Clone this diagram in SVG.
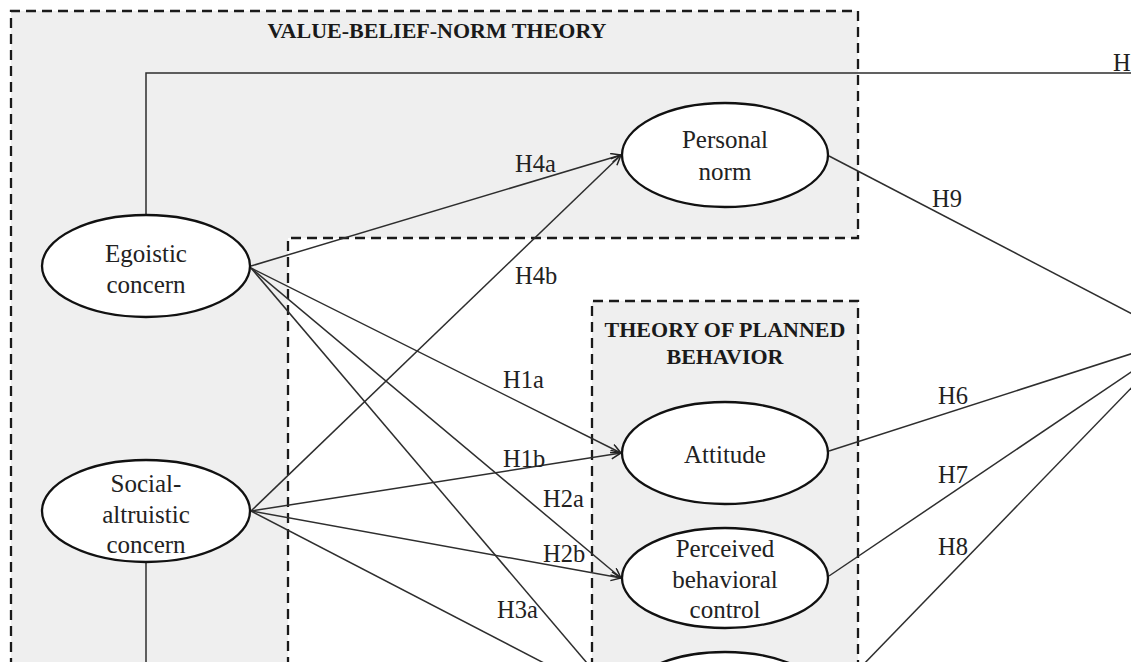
<svg xmlns="http://www.w3.org/2000/svg" width="1131" height="662" viewBox="0 0 1131 662">
<defs>
<style>
.box{fill:#efefef;stroke:#1a1a1a;stroke-width:2.3;stroke-dasharray:10 6}
.conn{fill:none;stroke:#2e2e2e;stroke-width:1.5}
.node{fill:#fff;stroke:#111;stroke-width:2.3}
.t{font-family:"Liberation Serif","Times New Roman",serif;font-size:25px;fill:#222;text-anchor:middle}
.lb{font-family:"Liberation Serif","Times New Roman",serif;font-size:24.5px;fill:#222}
.title{font-family:"Liberation Serif","Times New Roman",serif;font-size:22px;font-weight:bold;fill:#1a1a1a;text-anchor:middle}
</style>
<marker id="arr" markerUnits="userSpaceOnUse" markerWidth="14" markerHeight="14" refX="11" refY="5" orient="auto">
<path d="M1,0.5 L11,5 L1,9.5" fill="none" stroke="#222" stroke-width="1.5"/>
</marker>
</defs>
<rect width="1131" height="662" fill="#fff"/>
<g id="vbn-box">
<path class="box" d="M11,700 L11,11 L858,11 L858,238 L288,238 L288,700"/>
<text class="title" x="437" y="38">VALUE-BELIEF-NORM THEORY</text>
</g>
<g id="tpb-box">
<path class="box" d="M592,700 L592,301 L858,301 L858,700"/>
<text class="title" x="725" y="337">THEORY OF PLANNED</text>
<text class="title" x="725" y="364">BEHAVIOR</text>
</g>
<g id="connectors">
<path class="conn" d="M146,215 L146,73 L1140,73"/>
<path class="conn" d="M146,563 L146,680"/>
<line class="conn" x1="251" y1="266" x2="621" y2="155" marker-end="url(#arr)"/>
<line class="conn" x1="251" y1="268" x2="621" y2="453" marker-end="url(#arr)"/>
<line class="conn" x1="251" y1="268" x2="621" y2="578" marker-end="url(#arr)"/>
<line class="conn" x1="251" y1="268" x2="621" y2="703" marker-end="url(#arr)"/>
<line class="conn" x1="251" y1="511" x2="621" y2="155" marker-end="url(#arr)"/>
<line class="conn" x1="251" y1="511" x2="621" y2="453" marker-end="url(#arr)"/>
<line class="conn" x1="251" y1="511" x2="621" y2="578" marker-end="url(#arr)"/>
<line class="conn" x1="251" y1="511" x2="621" y2="703" marker-end="url(#arr)"/>
<line class="conn" x1="829" y1="156" x2="1140" y2="318"/>
<line class="conn" x1="829" y1="451" x2="1140" y2="351"/>
<line class="conn" x1="829" y1="576" x2="1140" y2="366"/>
<line class="conn" x1="829" y1="700" x2="1140" y2="379"/>
<text class="lb" x="1113" y="71">H</text>
<text class="lb" x="515" y="172">H4a</text>
<text class="lb" x="515" y="284">H4b</text>
<text class="lb" x="503" y="388">H1a</text>
<text class="lb" x="503" y="467">H1b</text>
<text class="lb" x="543" y="507">H2a</text>
<text class="lb" x="543" y="562">H2b</text>
<text class="lb" x="497" y="618">H3a</text>
<text class="lb" x="932" y="207">H9</text>
<text class="lb" x="938" y="404">H6</text>
<text class="lb" x="938" y="483">H7</text>
<text class="lb" x="938" y="555">H8</text>
</g>
<g id="egoistic">
<ellipse class="node" cx="146" cy="266" rx="104" ry="51"/>
<text class="t" x="146" y="262">Egoistic</text>
<text class="t" x="146" y="293">concern</text>
</g>
<g id="social">
<ellipse class="node" cx="146" cy="511" rx="104" ry="51"/>
<text class="t" x="146" y="492">Social-</text>
<text class="t" x="146" y="523">altruistic</text>
<text class="t" x="146" y="553">concern</text>
</g>
<g id="personal-norm">
<ellipse class="node" cx="725" cy="155" rx="103" ry="52"/>
<text class="t" x="725" y="148">Personal</text>
<text class="t" x="725" y="180">norm</text>
</g>
<g id="attitude">
<ellipse class="node" cx="725" cy="453" rx="103" ry="51"/>
<text class="t" x="725" y="463">Attitude</text>
</g>
<g id="pbc">
<ellipse class="node" cx="725" cy="578" rx="103" ry="50"/>
<text class="t" x="725" y="557">Perceived</text>
<text class="t" x="725" y="588">behavioral</text>
<text class="t" x="725" y="618">control</text>
</g>
<g id="bottom-node">
<ellipse class="node" cx="725" cy="703" rx="103" ry="51"/>
</g>
</svg>
